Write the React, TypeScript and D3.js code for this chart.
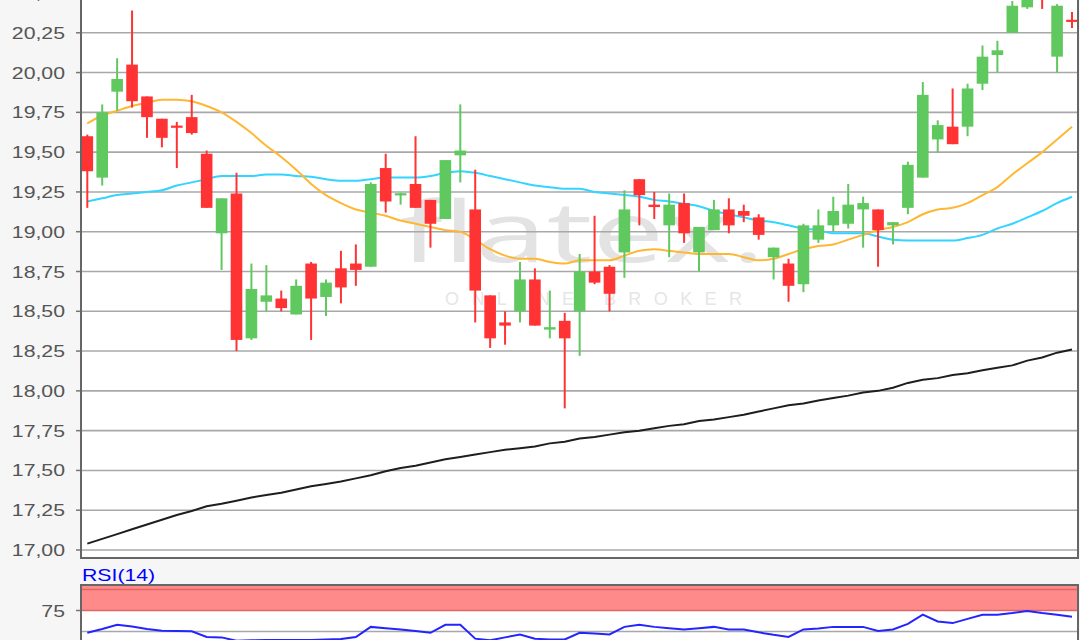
import React from "react";
import * as d3 from "d3";

// ---- Data ----
const openP = [19.60, 19.34, 19.88, 20.05, 19.85, 19.71, 19.665, 19.72, 19.49, 18.99,
  19.24, 18.33, 18.56, 18.58, 18.48, 18.80, 18.59, 18.77, 18.80, 18.78,
  19.40, 19.23, 19.30, 19.20, 19.08, 19.48, 19.14, 18.60, 18.43, 18.50,
  18.70, 18.385, 18.44, 18.50, 18.75, 18.78, 18.87, 19.33, 19.17, 19.04,
  19.18, 18.87, 19.01, 19.14, 19.13, 19.09, 18.84, 18.80, 18.67, 18.95,
  19.04, 19.05, 19.14, 19.14, 19.04, 19.15, 19.34, 19.58, 19.66, 19.66,
  19.93, 20.11, 20.25, 20.41, 20.60, 20.10, 20.33];
const highP = [19.61, 19.80, 20.09, 20.39, 19.85, 19.71, 19.69, 19.86, 19.51, 19.21,
  19.37, 18.80, 18.79, 18.63, 18.70, 18.81, 18.70, 18.88, 18.92, 19.31,
  19.49, 19.245, 19.60, 19.20, 19.45, 19.80, 19.39, 18.60, 18.50, 18.81,
  18.77, 18.63, 18.49, 18.86, 19.10, 18.79, 19.26, 19.33, 19.25, 19.24,
  19.24, 19.03, 19.20, 19.21, 19.17, 19.11, 18.90, 18.83, 19.05, 19.14,
  19.22, 19.30, 19.22, 19.14, 19.06, 19.44, 19.94, 19.70, 19.90, 19.93,
  20.17, 20.20, 20.45, 20.60, 20.62, 20.43, 20.38];
const lowP = [19.15, 19.29, 19.76, 19.78, 19.59, 19.53, 19.40, 19.61, 19.15, 18.76,
  18.25, 18.32, 18.50, 18.50, 18.48, 18.32, 18.47, 18.55, 18.66, 18.78,
  19.12, 19.17, 19.15, 18.90, 19.08, 19.31, 18.43, 18.27, 18.29, 18.43,
  18.41, 18.33, 17.89, 18.22, 18.67, 18.50, 18.71, 19.04, 19.08, 18.84,
  18.93, 18.75, 19.01, 18.99, 19.06, 18.95, 18.70, 18.56, 18.62, 18.93,
  19.00, 19.02, 18.90, 18.78, 18.92, 19.11, 19.34, 19.50, 19.55, 19.60,
  19.89, 20.00, 20.25, 20.40, 20.40, 20.00, 20.28];
const closeP = [19.38, 19.75, 19.96, 19.82, 19.72, 19.59, 19.655, 19.62, 19.15, 19.21,
  18.32, 18.64, 18.60, 18.52, 18.66, 18.58, 18.68, 18.65, 18.76, 19.30,
  19.19, 19.24, 19.15, 19.05, 19.45, 19.51, 18.63, 18.33, 18.41, 18.70,
  18.41, 18.40, 18.33, 18.75, 18.68, 18.61, 19.14, 19.23, 19.155, 19.17,
  18.99, 19.03, 19.14, 19.04, 19.10, 18.98, 18.90, 18.66, 19.04, 19.04,
  19.13, 19.17, 19.18, 19.01, 19.06, 19.42, 19.86, 19.67, 19.55, 19.90,
  20.10, 20.14, 20.42, 20.55, 20.47, 20.42, 20.32];

const maShort = [19.68, 19.73, 19.76, 19.79, 19.81, 19.83, 19.83, 19.82, 19.79, 19.75,
  19.69, 19.62, 19.54, 19.47, 19.39, 19.30, 19.23, 19.18, 19.14, 19.12,
  19.10, 19.07, 19.05, 19.03, 19.01, 19.00, 18.95, 18.89, 18.85, 18.83,
  18.83, 18.81, 18.80, 18.82, 18.82, 18.82, 18.85, 18.88, 18.89, 18.88,
  18.87, 18.86, 18.86, 18.86, 18.84, 18.82, 18.83, 18.86, 18.89, 18.91,
  18.92, 18.95, 18.98, 19.01, 19.03, 19.06, 19.11, 19.14, 19.15, 19.18,
  19.23, 19.28, 19.36, 19.43, 19.50, 19.58, 19.66];
const maMid = [19.19, 19.21, 19.23, 19.24, 19.25, 19.26, 19.29, 19.31, 19.33, 19.35,
  19.35, 19.35, 19.36, 19.36, 19.35, 19.345, 19.33, 19.32, 19.32, 19.33,
  19.34, 19.34, 19.34, 19.35, 19.37, 19.38, 19.37, 19.35, 19.33, 19.31,
  19.29, 19.28, 19.27, 19.27, 19.25, 19.24, 19.23, 19.22, 19.20, 19.19,
  19.175, 19.16, 19.13, 19.11, 19.09, 19.07, 19.06, 19.04, 19.02, 19.01,
  18.99, 18.99, 18.99, 18.97, 18.95, 18.945, 18.945, 18.945, 18.945, 18.96,
  18.98, 19.02, 19.05, 19.09, 19.13, 19.18, 19.22];
const maLong = [17.04, 17.07, 17.10, 17.13, 17.16, 17.19, 17.22, 17.245, 17.275, 17.29,
  17.31, 17.33, 17.345, 17.36, 17.38, 17.40, 17.415, 17.43, 17.45, 17.47,
  17.495, 17.515, 17.53, 17.55, 17.57, 17.585, 17.60, 17.615, 17.63, 17.64,
  17.65, 17.67, 17.68, 17.70, 17.71, 17.725, 17.74, 17.75, 17.765, 17.78,
  17.79, 17.81, 17.82, 17.835, 17.85, 17.87, 17.89, 17.91, 17.92, 17.94,
  17.955, 17.97, 17.99, 18.00, 18.02, 18.05, 18.07, 18.08, 18.10, 18.11,
  18.13, 18.145, 18.16, 18.19, 18.21, 18.24, 18.26];
const rsi14 = [48.5, 53, 58, 56, 53, 51, 50.5, 50.2, 43.5, 43,
  39, 39.5, 40, 40, 40, 40, 40.5, 41, 43.5, 55.5,
  54, 52.5, 50.5, 48.5, 58, 58, 41.5, 39.5, 43, 46.5,
  41.5, 40.5, 40.5, 48.5, 47.5, 46.5, 55.5, 58, 55.5, 54,
  52.5, 54, 55.5, 52.5, 52.5, 49, 46, 43.5, 52.5, 53.5,
  55.5, 55.5, 55.5, 50.5, 52.5, 59, 70, 62, 60, 65,
  70, 70, 72, 74.5, 72, 70, 67.5];

const priceTicks = [17, 17.25, 17.5, 17.75, 18, 18.25, 18.5, 18.75, 19, 19.25, 19.5, 19.75, 20, 20.25, 20.5];
const priceTickLabels = ["17,00", "17,25", "17,50", "17,75", "18,00", "18,25", "18,50", "18,75", "19,00", "19,25", "19,50", "19,75", "20,00", "20,25", "20,50"];
const rsiTicks = [75];
const rsiTickLabels = ["75"];
const rsiGrid = [50];
const rsiTitle = "RSI(14)";

export default function App() {
  const W = 1080, H = 640;
  const left = 81, right = 1078;
  const mainBottom = 558;
  const rsiTop = 585;
  const n = openP.length;

  const x = d3.scaleLinear().domain([0, n - 1]).range([87.3, 1072]);
  const y = d3.scaleLinear().domain([17, 20.5]).range([550, -7]);
  const yR = d3.scaleLinear().domain([50, 75]).range([631.5, 610.5]);
  const bodyW = 11.6;

  const smooth = d3.line<number>().x((_, i) => x(i)).y((d) => y(d)).curve(d3.curveMonotoneX);
  const straight = d3.line<number>().x((_, i) => x(i)).y((d) => y(d));
  const rsiLine = d3.line<number>().x((_, i) => x(i)).y((d) => yR(d));

  const green = "#5fc85f";
  const red = "#ff3333";
  const labelFont = "'Liberation Sans', Arial, sans-serif";

  return (
    <svg width={W} height={H} style={{ position: "absolute", left: 0, top: 0, display: "block" }}>
      <defs>
        <clipPath id="mainClip"><rect x={left} y={0} width={right - left} height={mainBottom} /></clipPath>
        <clipPath id="rsiClip"><rect x={left} y={rsiTop} width={right - left} height={H - rsiTop} /></clipPath>
      </defs>
      <rect x={0} y={0} width={W} height={H} fill="#f6f6f6" />
      <rect x={left} y={0} width={right - left} height={mainBottom} fill="#ffffff" />
      <rect x={left} y={rsiTop} width={right - left} height={H - rsiTop} fill="#ffffff" />

      {/* watermark */}
      <g clipPath="url(#mainClip)">
        <text x={400} y={262} textLength={365} lengthAdjust="spacingAndGlyphs" fontSize={84}
          fontFamily="'Open Sans', 'DejaVu Sans', sans-serif" fontWeight={400} fill="#e3e3e3">flatex.</text>
        <text x={445} y={305} textLength={297} lengthAdjust="spacing" fontSize={18}
          fontFamily={labelFont} fill="#e6e6e6">ONLINE BROKER</text>
      </g>

      {/* main gridlines */}
      {priceTicks.map((t, i) => (
        <g key={"g" + i}>
          <line x1={left} x2={right} y1={y(t)} y2={y(t)} stroke="#a8a8a8" strokeWidth={1.6} />
          <line x1={76} x2={left} y1={y(t)} y2={y(t)} stroke="#777" strokeWidth={1.5} />
          <text transform={`translate(65,${y(t) + 6}) scale(1.25,1)`} textAnchor="end" fontSize={17}
            fontFamily={labelFont} fill="#555">{priceTickLabels[i]}</text>
        </g>
      ))}

      <g clipPath="url(#mainClip)">
        <path d={straight(maLong) || ""} fill="none" stroke="#1e1e1e" strokeWidth={2} />
        <path d={smooth(maMid) || ""} fill="none" stroke="#33d4ff" strokeWidth={2} />
        <path d={smooth(maShort) || ""} fill="none" stroke="#ffb733" strokeWidth={2} />

        {openP.map((o, i) => {
          const c = closeP[i];
          const up = c >= o;
          const col = up ? green : red;
          const top = y(Math.max(o, c));
          const bot = y(Math.min(o, c));
          const h = Math.max(bot - top, 2.2);
          const cx = x(i);
          return (
            <g key={"c" + i}>
              <line x1={cx} x2={cx} y1={y(highP[i])} y2={y(lowP[i])} stroke={col} strokeWidth={2} />
              <rect x={cx - bodyW / 2} y={(top + bot) / 2 - h / 2} width={bodyW} height={h} fill={col} />
            </g>
          );
        })}
      </g>

      {/* RSI panel */}
      <rect x={left} y={rsiTop} width={right - left} height={yR(75) - rsiTop} fill="#ff8a8a" />
      <line x1={left} x2={right} y1={yR(100)} y2={yR(100)} stroke="#e06666" strokeWidth={1.5} />
      <line x1={left} x2={right} y1={yR(75)} y2={yR(75)} stroke="#e06666" strokeWidth={1.5} />
      {rsiGrid.map((t, i) => (
        <line key={"rg" + i} x1={left} x2={right} y1={yR(t)} y2={yR(t)} stroke="#a8a8a8" strokeWidth={1.6} />
      ))}
      {rsiTicks.map((t, i) => (
        <g key={"rt" + i}>
          <line x1={76} x2={left} y1={yR(t)} y2={yR(t)} stroke="#777" strokeWidth={1.5} />
          <text transform={`translate(65,${yR(t) + 6}) scale(1.25,1)`} textAnchor="end" fontSize={17}
            fontFamily={labelFont} fill="#555">{rsiTickLabels[i]}</text>
        </g>
      ))}
      <g clipPath="url(#rsiClip)">
        <path d={rsiLine(rsi14) || ""} fill="none" stroke="#2424ff" strokeWidth={2} />
      </g>
      <text transform={`translate(82,580.5) scale(1.25,1)`} fontSize={17} fontFamily={labelFont} fill="#0000ff">{rsiTitle}</text>

      {/* frames */}
      <line x1={left} x2={left} y1={0} y2={mainBottom} stroke="#666" strokeWidth={2} />
      <line x1={right} x2={right} y1={0} y2={mainBottom} stroke="#666" strokeWidth={2} />
      <line x1={left - 1} x2={right + 1} y1={mainBottom} y2={mainBottom} stroke="#666" strokeWidth={2} />
      <line x1={left - 1} x2={right + 1} y1={rsiTop} y2={rsiTop} stroke="#666" strokeWidth={2} />
      <line x1={left} x2={left} y1={rsiTop} y2={H} stroke="#666" strokeWidth={2} />
      <line x1={right} x2={right} y1={rsiTop} y2={H} stroke="#666" strokeWidth={2} />
    </svg>
  );
}
